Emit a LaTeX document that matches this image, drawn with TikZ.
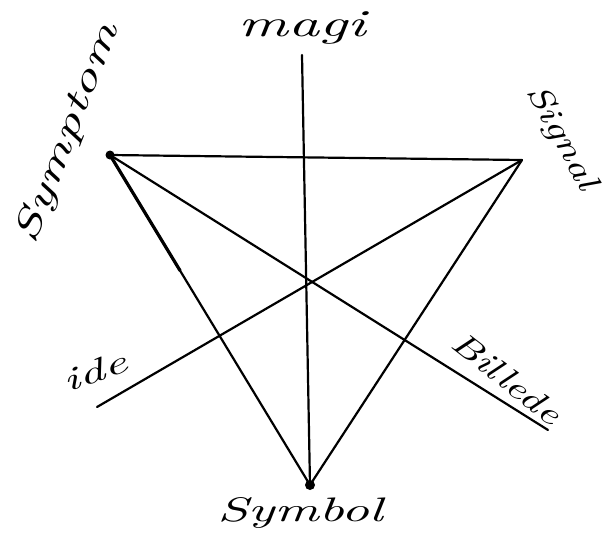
\documentclass[tikz,border=0pt]{standalone}
\usepackage{fontspec}
\newfontfamily\handfont{lmroman10-italic.otf}[FakeStretch=1.35]
\newfontfamily\handwide{lmroman10-italic.otf}[FakeStretch=1.6]
\usetikzlibrary{calc}
\tikzset{
  stroke/.style={line width=2.2pt, black, line cap=round, line join=round},
  lbl/.style={font=\handfont\fontsize{32}{34}\selectfont, inner sep=0pt},
}
\begin{document}
\begin{tikzpicture}[x=1pt,y=-1pt]
\useasboundingbox (0,0) rectangle (606,541);
% vertices
\coordinate (sym) at (110,155);
\coordinate (sig) at (522,160);
\coordinate (sbl) at (310,485);
\coordinate (top) at (302,55);
\coordinate (idE) at (97,407);
\coordinate (bilE) at (548,430);
% triangle
\draw[stroke] (sym) -- (sig) -- (sbl) -- cycle;
\draw[stroke, line width=3.2pt] (sym) -- ($(sym)!0.35!(sbl)$);
% axes
\draw[stroke] (top) -- (sbl);
\draw[stroke] (idE) -- (sig);
\draw[stroke] (sym) -- (bilE);
\fill (sbl) circle (5pt);
\fill (sym) circle (4.5pt);
% labels
\node[lbl, font=\handwide\fontsize{38}{40}\selectfont] (lmagi) at (302,28) {magi};
\node[lbl, font=\handwide\fontsize{36}{38}\selectfont, rotate=69] (lsymp) at (68,134) {Symptom};
\node[lbl, rotate=-61] (lsig) at (561,138) {Signal};
\node[lbl, font=\handwide\fontsize{32}{34}\selectfont, rotate=20] (lide) at (95,371) {ide};
\node[lbl, rotate=-38] (lbil) at (507,378) {Billede};
\node[lbl, font=\handwide\fontsize{34}{36}\selectfont] (lsbl) at (300,513) {Symbol};
\end{tikzpicture}
\end{document}
